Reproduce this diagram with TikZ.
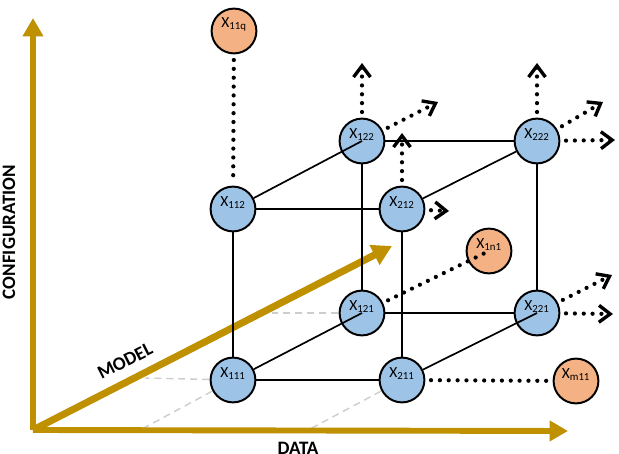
\documentclass[tikz,border=0pt]{standalone}
\usepackage{fontspec}
\setmainfont{Carlito}
\usetikzlibrary{arrows.meta,backgrounds}

\definecolor{axisgold}{RGB}{191,144,0}
\definecolor{cellblue}{RGB}{157,195,230}
\definecolor{cellorange}{RGB}{244,177,131}
\definecolor{projgray}{RGB}{205,205,205}

\begin{document}
\begin{tikzpicture}[x=0.025cm, y=0.025cm,
    cell/.style={circle, draw, line width=1.4pt, fill=cellblue, minimum size=1.12cm, inner sep=0pt},
    extcell/.style={cell, fill=cellorange},
    lbl/.style={anchor=base, yshift=4.5pt, inner sep=0pt, font=\fontsize{11}{12}\selectfont},
    link/.style={line width=1.2pt},
    goldaxis/.style={axisgold, line width=4.2pt, -{Triangle[length=13pt, width=14pt]}},
    proj/.style={projgray, line width=1pt, dash pattern=on 5pt off 3.5pt},
    dots/.style={line width=3pt, dash pattern=on 0pt off 6.3pt, line cap=round, shorten <=4pt},
    outarrow/.style={dots, -{Straight Barb[length=8pt, width=12pt, line width=2.4pt]}},
    axlbl/.style={inner sep=0pt, font=\fontsize{13.5}{16}\selectfont\bfseries}]
    \useasboundingbox (0,0) rectangle (619,454);

    %front face
    \node[cell, label={[lbl]center:X\textsubscript{111}}] (x111) at (233,74) {};
    \node[cell, label={[lbl]center:X\textsubscript{211}}] (x211) at (402,74) {};
    \node[cell, label={[lbl]center:X\textsubscript{112}}] (x112) at (233,245) {};
    \node[cell, label={[lbl]center:X\textsubscript{212}}] (x212) at (402,245) {};
    %back face
    \node[cell, label={[lbl]center:X\textsubscript{121}}] (x121) at (362,141) {};
    \node[cell, label={[lbl]center:X\textsubscript{221}}] (x221) at (537,141) {};
    \node[cell, label={[lbl]center:X\textsubscript{122}}] (x122) at (362,313) {};
    \node[cell, label={[lbl]center:X\textsubscript{222}}] (x222) at (537,313) {};
    %far cells
    \node[extcell, label={[lbl]center:X\textsubscript{11q}}] (x11q) at (234,423) {};
    \node[extcell, label={[lbl]center:X\textsubscript{1n1}}] (x1n1) at (489,203) {};
    \node[extcell, label={[lbl]center:X\textsubscript{m11}}] (xm11) at (576,73) {};

    %axes
    \coordinate (o) at (33,24);
    \coordinate (cfgtip) at (33,436);
    \coordinate (dattip) at (568,23);
    \coordinate (mdltip) at (392,208);
    %feet of the projections
    \coordinate (f111m) at (145,76);
    \coordinate (f121m) at (272,141);
    \coordinate (f111d) at (142,25);
    \coordinate (f211d) at (310,25);

    \begin{scope}[on background layer]
        \draw[proj] (x111.center) -- (f111m);
        \draw[proj] (x121.center) -- (f121m);
        \draw[proj] (x111.center) -- (f111d);
        \draw[proj] (x211.center) -- (f211d);

        \draw[goldaxis] (o) -- (cfgtip);
        \draw[goldaxis] (o) -- (dattip);
        \draw[goldaxis, line width=5pt, -{Triangle[length=14pt, width=15pt]}] (o) -- (mdltip);

        %cube edges
        \draw[link] (x111) -- (x211);
        \draw[link] (x111) -- (x112);
        \draw[link] (x112) -- (x212);
        \draw[link] (x211) -- (x212);
        \draw[link] (x121) -- (x221);
        \draw[link] (x121) -- (x122);
        \draw[link] (x122) -- (x222);
        \draw[link] (x221) -- (x222);
        \draw[link] (x212) -- (x222);
    \end{scope}
    \draw[link] (x111) -- (x121.center);
    \draw[link] (x112) -- (x122.center);
    \draw[link] (x211) -- (x221.center);

    %dotted continuations
    \draw[dots, shorten >=4pt] (x11q) -- (x112);
    \draw[dots, shorten >=4pt] (x211) -- (xm11);
    \draw[dots] (x121) -- (x1n1.center);

    \coordinate (u122) at (362,391);
    \coordinate (d122) at (438,352);
    \coordinate (u212) at (402,321);
    \coordinate (r212) at (449,243);
    \coordinate (u222) at (537,391);
    \coordinate (d222) at (603,352);
    \coordinate (r222) at (615,314);
    \coordinate (d221) at (612,179);
    \coordinate (r221) at (613,140);
    \draw[outarrow] (x122) -- (u122);
    \draw[outarrow] (x122) -- (d122);
    \draw[outarrow] (x212) -- (u212);
    \draw[outarrow] (x212) -- (r212);
    \draw[outarrow] (x222) -- (u222);
    \draw[outarrow] (x222) -- (d222);
    \draw[outarrow] (x222) -- (r222);
    \draw[outarrow] (x221) -- (d221);
    \draw[outarrow] (x221) -- (r221);

    %axis labels
    \node[axlbl, rotate=90] (cfg) at (9,222) {CONFIGURATION};
    \node[axlbl, rotate=27] (mdl) at (125,93) {MODEL};
    \node[axlbl, anchor=north] (dat) at (298,12) {DATA};
\end{tikzpicture}
\end{document}
